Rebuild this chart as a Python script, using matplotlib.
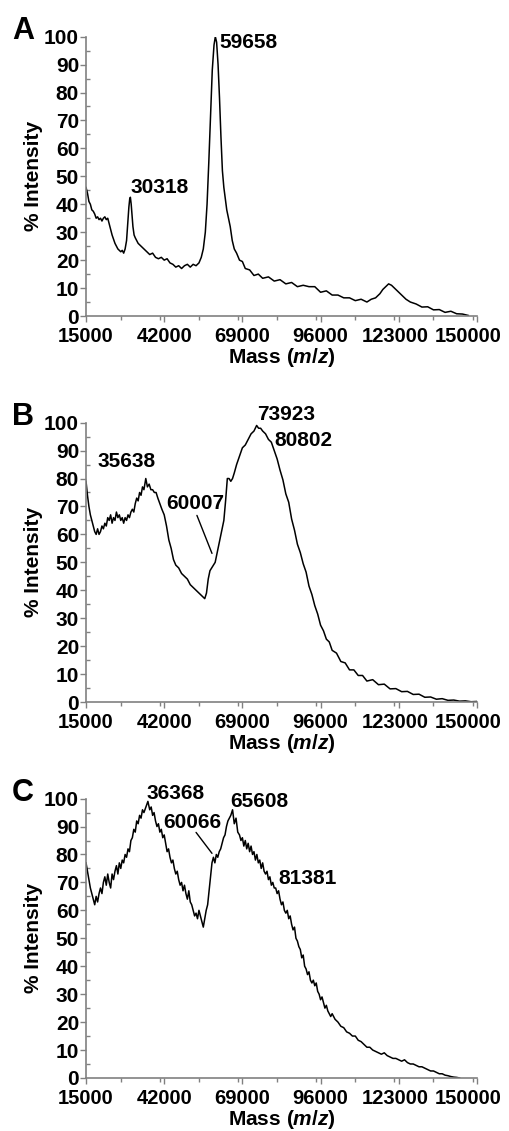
import matplotlib
matplotlib.use("Agg")
import matplotlib.pyplot as plt
import matplotlib.transforms as mtransforms
from matplotlib.ticker import MultipleLocator

plt.rcParams["font.family"] = ["Liberation Sans", "DejaVu Sans"]
plt.rcParams["font.weight"] = "bold"
plt.rcParams["mathtext.fontset"] = "custom"
plt.rcParams["mathtext.it"] = "Liberation Sans:bold:italic"
plt.rcParams["mathtext.rm"] = "Liberation Sans:bold"

# panel A spectrum
mass_a = [
    15000, 15500, 16000, 16500, 17000, 17500, 18000, 18500, 19000, 19500,
    20000, 20500, 21000, 21500, 22000, 22500, 23000, 23500, 24000, 24500,
    25000, 25500, 26000, 26500, 27000, 27500, 28000, 28500, 29000, 29400,
    29800, 30100, 30318, 30600, 30900, 31200, 31600, 32000, 32500, 33000,
    34000, 35000, 36000, 37000, 38000, 39000, 40000, 41000, 42000, 43000,
    44000, 45000, 46000, 47000, 48000, 49000, 50000, 51000, 52000, 53000,
    54000, 54800, 55500, 56200, 56800, 57400, 58000, 58600, 59200, 59658,
    60100, 60600, 61100, 61600, 62100, 62600, 63100, 63600, 64200, 64800,
    65500, 66200, 67000, 68000, 69000, 70000, 71500, 73000, 74500, 76000,
    78000, 80000, 82000, 84000, 86000, 88000, 90000, 92000, 94000, 96000,
    98000, 100000, 102000, 104000, 106000, 108000, 110000, 112000, 113500, 115000,
    116500, 117500, 118500, 119500, 120500, 121500, 122500, 124000, 125500, 127000,
    129000, 131000, 133000, 135000, 137000, 139000, 141000, 143000, 145000, 147000,
]
int_a = [
    46, 44, 41, 40, 38, 37.5, 36.5, 35, 35.5, 34.5,
    35, 34, 35, 35.5, 34.5, 35, 33, 31, 29, 27.5,
    26, 25, 24, 23.5, 23, 23.5, 22.5, 24, 27, 33,
    39, 42, 42.5, 40, 36, 32, 29, 28, 27, 26,
    25, 24, 23, 22, 22.5, 21, 20.5, 21, 20, 20.5,
    19, 18.5, 17.5, 18, 17, 18, 18.5, 17.5, 18.5, 18,
    19, 21, 24, 30, 40, 55, 72, 88, 97, 100,
    98, 90, 78, 64, 52, 46, 42, 38, 35, 32,
    27, 24, 22.5, 20, 19.5, 17, 16.5, 14.5, 15, 13.5,
    14, 12.5, 13, 11.5, 12, 10.5, 11, 10.5, 10.5, 8.5,
    9, 7.5, 7.5, 6.5, 6.5, 5.5, 6, 5, 6, 6.5,
    8, 9.5, 10.5, 11.5, 11, 10, 9, 7.5, 6, 5,
    4.3, 3.2, 3.3, 2.2, 2.3, 1.3, 1.7, 0.8, 0.7, 0.2,
]

# panel B spectrum
mass_b = [
    15000, 15500, 16000, 16500, 17000, 17500, 18000, 18500, 19000, 19500,
    20000, 20500, 21000, 21500, 22000, 22500, 23000, 23500, 24000, 24500,
    25000, 25500, 26000, 26500, 27000, 27500, 28000, 28500, 29000, 29500,
    30000, 30500, 31000, 31500, 32000, 32500, 33000, 33500, 34000, 34500,
    35000, 35638, 36200, 36800, 37400, 38000, 38600, 39200, 39800, 40500,
    41200, 42000, 42800, 43600, 44400, 45200, 46000, 47000, 48000, 49000,
    50000, 51000, 52000, 53000, 54000, 55000, 56000, 56600, 57200, 57800,
    58400, 59000, 59600, 60200, 61000, 61800, 62600, 63200, 63800, 64400,
    65000, 65600, 66200, 67000, 68000, 69000, 70000, 71000, 72000, 73000,
    73923, 74600, 75300, 76000, 77000, 78000, 79000, 80000, 81000, 82000,
    83000, 84000, 85000, 86000, 87000, 88000, 89000, 90000, 91000, 92000,
    93000, 94000, 95000, 96000, 97000, 98000, 99000, 100000, 101500, 103000,
    104500, 106000, 107500, 109000, 110500, 112000, 114000, 116000, 118000, 120000,
    122000, 124000, 126000, 128000, 130000, 132000, 134000, 136000, 138000, 140000,
    142000, 144000, 146000, 148000, 150000,
]
int_b = [
    79, 74, 70, 67, 65, 63, 61, 60, 62, 60,
    61, 63, 62, 64, 63, 66, 65, 67, 64, 66,
    65, 68, 66, 67, 65, 66, 64, 66, 65, 67,
    66, 68, 69, 68, 71, 73, 72, 75, 74, 77,
    76, 80, 77, 78, 76, 76, 75, 75, 73, 71,
    69, 67, 63, 58, 55, 51, 49, 48, 46, 45,
    44, 42, 41, 40, 39, 38, 37, 39, 44, 47,
    48, 49, 50, 53, 57, 61, 65, 72, 80, 80,
    79, 80, 82, 85, 88, 91, 92, 94, 96, 97,
    99, 98, 98, 97, 96, 94, 93, 90, 87, 83,
    79.5, 74.5, 71.5, 65.5, 61.5, 56.5, 53.5, 49.5, 46.5, 41.5,
    38.5, 34.5, 31.5, 27.5, 25.5, 22.5, 21.5, 18.5, 17.5, 14.5,
    14, 11.5, 11.5, 9.5, 9.5, 7.5, 8, 6.2, 6.4, 4.7,
    4.8, 3.7, 3.8, 2.7, 2.8, 1.7, 1.8, 1.0, 1.2, 0.6,
    0.7, 0.3, 0.4, 0.1, 0.2,
]

# panel C spectrum
mass_c = [
    15000, 15500, 16000, 16500, 17000, 17500, 18000, 18500, 19000, 19500,
    20000, 20500, 21000, 21500, 22000, 22500, 23000, 23500, 24000, 24500,
    25000, 25500, 26000, 26500, 27000, 27500, 28000, 28500, 29000, 29500,
    30000, 30500, 31000, 31500, 32000, 32500, 33000, 33500, 34000, 34500,
    35000, 35700, 36368, 37000, 37500, 38000, 38500, 39000, 39500, 40000,
    40500, 41000, 41500, 42000, 42500, 43000, 43500, 44000, 44500, 45000,
    45500, 46000, 46500, 47000, 47500, 48000, 48500, 49000, 49500, 50000,
    50500, 51000, 51500, 52000, 52500, 53000, 53500, 54000, 54500, 55000,
    55500, 56000, 56500, 57000, 57500, 58000, 58500, 59000, 59500, 60000,
    60500, 61000, 61500, 62000, 62500, 63000, 63500, 64000, 64500, 65000,
    65608, 66200, 66800, 67400, 68000, 68500, 69000, 69500, 70000, 70500,
    71000, 71500, 72000, 72500, 73000, 73500, 74000, 74500, 75000, 75500,
    76000, 76500, 77000, 77500, 78000, 78500, 79000, 79500, 80000, 80500,
    81000, 81500, 82000, 82500, 83000, 83500, 84000, 84500, 85000, 85500,
    86000, 86500, 87000, 87500, 88000, 88500, 89000, 89500, 90000, 90500,
    91000, 91500, 92000, 92500, 93000, 93500, 94000, 94500, 95000, 95500,
    96000, 96500, 97000, 97500, 98000, 98500, 99000, 99500, 100000, 101000,
    102000, 103000, 104000, 105000, 106000, 107000, 108000, 109000, 110000, 111000,
    112000, 113000, 114000, 115000, 116000, 117000, 118000, 119000, 120000, 121000,
    122000, 123000, 124000, 125000, 126000, 127000, 128000, 129000, 130000, 131000,
    132000, 133000, 134000, 135000, 136000, 137000, 138000, 139000, 140000, 141000,
    142000, 143000, 144000,
]
int_c = [
    77, 74, 71, 68, 66, 64, 62, 65, 63, 66,
    68, 66, 70, 72, 69, 73, 70, 68, 73, 71,
    74, 76, 73, 77, 75, 78, 77, 80, 79, 82,
    81, 85, 86, 89, 88, 92, 91, 94, 93, 96,
    95, 97, 99, 96, 97, 94, 95, 92, 90, 91,
    88, 89, 86, 87, 84, 81, 82, 79, 77, 78,
    75, 73, 74, 71, 69, 70, 67, 69, 66, 64,
    67, 63, 62, 60, 58, 59, 57, 60, 58, 56,
    54, 57, 60, 62, 67, 72, 77, 79, 77, 80,
    79, 81, 82, 84, 86, 87, 90, 92, 93, 94,
    96, 91, 93, 88, 87, 85, 86, 83, 85, 82,
    84, 81, 83, 80, 81, 78, 80, 77, 78, 75,
    77, 74, 73, 74, 71, 72, 69, 70, 68, 68,
    66, 67, 64, 62, 63, 60, 59, 60, 57, 58,
    55, 53, 54, 50, 49, 47, 46, 43, 44, 40,
    39, 37, 38, 35, 34, 35, 33, 34, 31, 30,
    28, 29, 27, 25, 26, 24, 23, 22, 23, 21,
    20, 18.5, 18, 16.5, 16, 15, 15, 13.5, 13, 12,
    11, 11, 10, 9.5, 9, 8.5, 9, 8, 7.5, 7,
    7, 6.5, 6, 6.5, 5.5, 5, 5, 4.5, 4, 4,
    3.5, 3, 2.5, 2.5, 2, 1.5, 1.5, 1, 0.8, 0.5,
    0.3, 0.2, 0,
]

x_ticks = [15000, 42000, 69000, 96000, 123000, 150000]
y_ticks = [0, 10, 20, 30, 40, 50, 60, 70, 80, 90, 100]

# (text, x, y) peak labels
labels_a = [("59658", 61200, 98), ("30318", 30300, 46)]
labels_b = [("35638", 18800, 86), ("73923", 74000, 103), ("80802", 80200, 93.5),
            ("60007", 42600, 71)]
labels_c = [("36368", 36000, 102), ("65608", 64700, 99), ("60066", 41600, 91.4),
            ("81381", 81300, 71.4)]
leader_b = ((53300, 66.8), (58500, 53.2))
leader_c = ((53000, 87.9), (58500, 80.4))

panels = [
    ("A", mass_a, int_a, labels_a, None, 0.7206),
    ("B", mass_b, int_b, labels_b, leader_b, 0.3793),
    ("C", mass_c, int_c, labels_c, leader_c, 0.0469),
]

fig = plt.figure(figsize=(5.09, 11.31), dpi=100)
# nudge the two rightmost x labels left so they do not collide / clip
shift_123 = mtransforms.ScaledTranslation(-4 / 100, 0, fig.dpi_scale_trans)
shift_150 = mtransforms.ScaledTranslation(-9 / 100, 0, fig.dpi_scale_trans)

for letter, mass, inten, labels, leader, bottom in panels:
    ax = fig.add_axes([0.169, bottom, 0.768, 0.247])
    ax.plot(mass, inten, color="black", lw=1.1)
    ax.set_xlim(15000, 150000)
    ax.set_ylim(0, 100)
    ax.set_xticks(x_ticks)
    ax.set_yticks(y_ticks)
    ax.xaxis.set_minor_locator(MultipleLocator(13500))
    ax.yaxis.set_minor_locator(MultipleLocator(5))
    for side in ["top", "right"]:
        ax.spines[side].set_visible(False)
    for side in ["left", "bottom"]:
        ax.spines[side].set_color("#808080")
        ax.spines[side].set_linewidth(1.2)
    ax.tick_params(axis="both", which="major", color="#808080", width=1.0, length=4)
    ax.tick_params(axis="y", which="major", pad=1, labelsize=15)
    ax.tick_params(axis="x", which="major", pad=4, labelsize=14.5)
    ax.tick_params(axis="y", which="minor", direction="in", color="#808080",
                   width=1.0, length=3)
    ax.tick_params(axis="x", which="minor", direction="out", color="#808080",
                   width=1.0, length=3)
    for lab in ax.get_xticklabels() + ax.get_yticklabels():
        lab.set_fontweight("bold")
    xl = ax.get_xticklabels()
    xl[-2].set_transform(xl[-2].get_transform() + shift_123)
    xl[-1].set_transform(xl[-1].get_transform() + shift_150)

    ax.set_xlabel("Mass ($m/z$)", fontsize=15, fontweight="bold", labelpad=0)
    ax.set_ylabel("% Intensity", fontsize=15, fontweight="bold", labelpad=1)

    for txt, x, y in labels:
        ax.text(x, y, txt, fontsize=15, fontweight="bold", ha="left", va="center",
                clip_on=False)
    if leader is not None:
        ax.annotate("", xy=leader[1], xytext=leader[0],
                    arrowprops=dict(arrowstyle="-", color="black", lw=1.0,
                                    shrinkA=0, shrinkB=0))

    ax.text(-0.19, 1.02, letter, transform=ax.transAxes, fontsize=22,
            fontweight="bold", ha="left", va="center")

fig.savefig("out.png", dpi=100)
plt.close(fig)
